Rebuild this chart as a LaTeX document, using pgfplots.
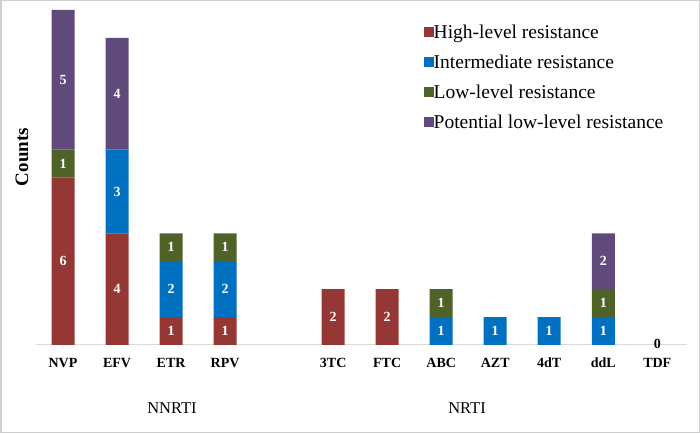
\documentclass[border=0pt]{standalone}
\usepackage{fontspec}
\setmainfont{Liberation Serif}
\usepackage{pgfplots}
\pgfplotsset{compat=1.18}
\definecolor{cHigh}{HTML}{953735}
\definecolor{cInt}{HTML}{0070C0}
\definecolor{cLow}{HTML}{4F6228}
\definecolor{cPot}{HTML}{604A7B}
\definecolor{frame}{HTML}{D0D0D0}
\definecolor{axl}{HTML}{D9D9D9}
\begin{document}
\begin{tikzpicture}
\useasboundingbox (0pt,0pt) rectangle (700pt,433pt);
\draw[frame, line width=1.5pt] (0.75pt,0.75pt) rectangle (699.25pt,432.25pt);
\pgfplotsset{
  common/.style={
    at={(36pt,88pt)}, anchor=south west,
    scale only axis, width=651pt, height=335pt,
    xmin=-0.5, xmax=11.55, ymin=0, ymax=12,
  }
}
\begin{axis}[common,
  ybar stacked, bar width=23pt,
  axis x line=bottom, axis y line=none,
  x axis line style={axl, line width=1pt, -},
  xtick={0,1,2,3,5,6,7,8,9,10,11},
  xticklabels={NVP,EFV,ETR,RPV,3TC,FTC,ABC,AZT,4dT,ddL,TDF},
  major tick length=0pt,
  xticklabel style={font=\fontsize{14}{16}\selectfont\bfseries, anchor=center, yshift=-18pt},
  legend cell align=left,
  legend image code/.code={\fill[#1,draw=none] (0pt,-2.5pt) rectangle (9.5pt,7.5pt);},
  legend style={draw=none, fill=none, at={(0.596,0.953)}, anchor=north west,
    font=\fontsize{19.5}{21}\selectfont, inner sep=0pt,
    nodes={inner sep=0pt, text height=13pt, text depth=4pt},
    row sep=13pt,
    /tikz/every even column/.append style={column sep=6pt}},
]
\addplot[fill=cHigh, draw=none] coordinates {(0,6) (1,4) (2,1) (3,1) (5,2) (6,2) (7,0) (8,0) (9,0) (10,0) (11,0)};
\addlegendentry{High-level resistance}
\addplot[fill=cInt, draw=none] coordinates {(0,0) (1,3) (2,2) (3,2) (5,0) (6,0) (7,1) (8,1) (9,1) (10,1) (11,0)};
\addlegendentry{Intermediate resistance}
\addplot[fill=cLow, draw=none] coordinates {(0,1) (1,0) (2,1) (3,1) (5,0) (6,0) (7,1) (8,0) (9,0) (10,1) (11,0)};
\addlegendentry{Low-level resistance}
\addplot[fill=cPot, draw=none] coordinates {(0,5) (1,4) (2,0) (3,0) (5,0) (6,0) (7,0) (8,0) (9,0) (10,2) (11,0)};
\addlegendentry{Potential low-level resistance}
\end{axis}
\begin{axis}[common, hide axis,
  every node near coord/.style={anchor=center, font=\fontsize{14}{16}\selectfont\bfseries, text=white, inner sep=0pt}]
\addplot[only marks, mark=none, nodes near coords, point meta=explicit symbolic] table[meta=l] {
x y l
0 3 6
0 6.5 1
0 9.5 5
1 2 4
1 5.5 3
1 9 4
2 0.5 1
2 2 2
2 3.5 1
3 0.5 1
3 2 2
3 3.5 1
5 1 2
6 1 2
7 0.5 1
7 1.5 1
8 0.5 1
9 0.5 1
10 0.5 1
10 1.5 1
10 3 2
};
\addplot[only marks, mark=none, nodes near coords, point meta=explicit symbolic,
  every node near coord/.append style={text=black}] table[meta=l] {
x y l
11 0.05 0
};
\end{axis}
\node[font=\fontsize{16.5}{18}\selectfont] at (172pt,25pt) {NNRTI};
\node[font=\fontsize{16.5}{18}\selectfont] at (467pt,25pt) {NRTI};
\node[font=\fontsize{19}{21}\selectfont\bfseries, rotate=90] at (22pt,276pt) {Counts};
\end{tikzpicture}
\end{document}
